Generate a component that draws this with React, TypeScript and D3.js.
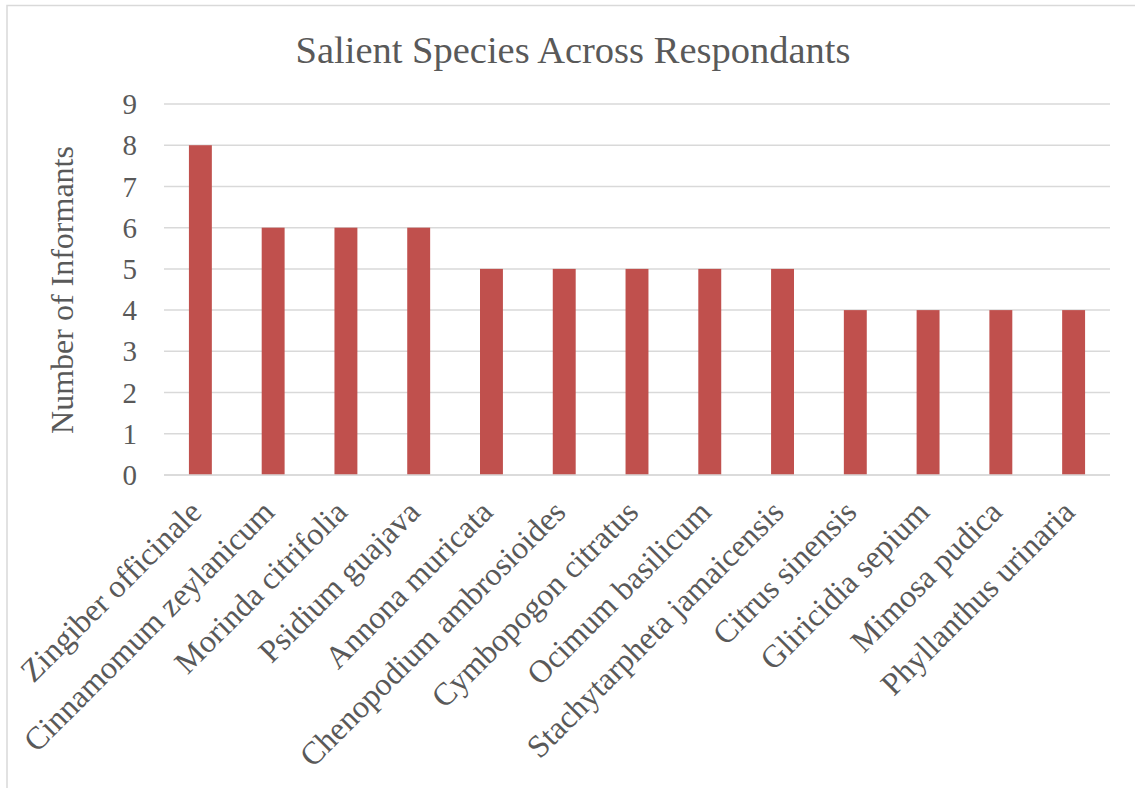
import React, { useEffect, useRef } from "react";
import * as d3 from "d3";

const species = [
  "Zingiber officinale",
  "Cinnamomum zeylanicum",
  "Morinda citrifolia",
  "Psidium guajava",
  "Annona muricata",
  "Chenopodium ambrosioides",
  "Cymbopogon citratus",
  "Ocimum basilicum",
  "Stachytarpheta jamaicensis",
  "Citrus sinensis",
  "Gliricidia sepium",
  "Mimosa pudica",
  "Phyllanthus urinaria",
];
const informants = [8, 6, 6, 6, 5, 5, 5, 5, 5, 4, 4, 4, 4];
const yTicks = [0, 1, 2, 3, 4, 5, 6, 7, 8, 9];

const App: React.FC = () => {
  const svgRef = useRef<SVGSVGElement | null>(null);

  useEffect(() => {
    const width = 1135;
    const height = 788;
    const font = "'Liberation Serif', 'Times New Roman', serif";
    const textColor = "#595959";

    const svg = d3.select(svgRef.current);
    svg.selectAll("*").remove();
    svg.attr("width", width).attr("height", height);

    // chart frame
    svg
      .append("rect")
      .attr("x", 7)
      .attr("y", 5.5)
      .attr("width", 1140)
      .attr("height", 800)
      .attr("fill", "#fff")
      .attr("stroke", "#d9d9d9")
      .attr("stroke-width", 1.5);

    const x = d3
      .scaleBand<string>()
      .domain(species)
      .range([164, 1110])
      .paddingInner(0.685)
      .paddingOuter(0.3425);

    const y = d3.scaleLinear().domain([0, 9]).range([475, 104]);

    // gridlines
    svg
      .append("g")
      .selectAll("line")
      .data(yTicks)
      .enter()
      .append("line")
      .attr("x1", 164)
      .attr("x2", 1110)
      .attr("y1", (d) => y(d))
      .attr("y2", (d) => y(d))
      .attr("stroke", "#d9d9d9")
      .attr("stroke-width", 1.5);

    // bars
    svg
      .append("g")
      .selectAll("rect")
      .data(informants)
      .enter()
      .append("rect")
      .attr("x", (d, i) => x(species[i])!)
      .attr("width", x.bandwidth())
      .attr("y", (d) => y(d))
      .attr("height", (d) => y(0) - y(d))
      .attr("fill", "#c0504d");

    // baseline over bars
    svg
      .append("line")
      .attr("x1", 164)
      .attr("x2", 1110)
      .attr("y1", y(0))
      .attr("y2", y(0))
      .attr("stroke", "#d9d9d9")
      .attr("stroke-width", 1.5);

    // y tick labels
    svg
      .append("g")
      .selectAll("text")
      .data(yTicks)
      .enter()
      .append("text")
      .attr("x", 137)
      .attr("y", (d) => y(d))
      .attr("dy", "0.35em")
      .attr("text-anchor", "end")
      .attr("font-family", font)
      .attr("font-size", 29)
      .attr("fill", textColor)
      .text((d) => d);

    // category labels
    svg
      .append("g")
      .selectAll("text")
      .data(species)
      .enter()
      .append("text")
      .attr("transform", (d) => {
        const cx = x(d)! + x.bandwidth() / 2 + 3;
        return `translate(${cx},${514}) rotate(-45)`;
      })
      .attr("text-anchor", "end")
      .attr("font-family", font)
      .attr("font-size", 32)
      .attr("fill", textColor)
      .text((d) => d);

    // y axis title
    svg
      .append("text")
      .attr("transform", `translate(73,290) rotate(-90)`)
      .attr("text-anchor", "middle")
      .attr("font-family", font)
      .attr("font-size", 32)
      .attr("fill", textColor)
      .text("Number of Informants");

    // chart title
    svg
      .append("text")
      .attr("x", 573)
      .attr("y", 63)
      .attr("text-anchor", "middle")
      .attr("font-family", font)
      .attr("font-size", 38.5)
      .attr("fill", textColor)
      .text("Salient Species Across Respondants");
  }, []);

  return <svg ref={svgRef} style={{ position: "absolute", left: 0, top: 0 }} />;
};

export default App;
